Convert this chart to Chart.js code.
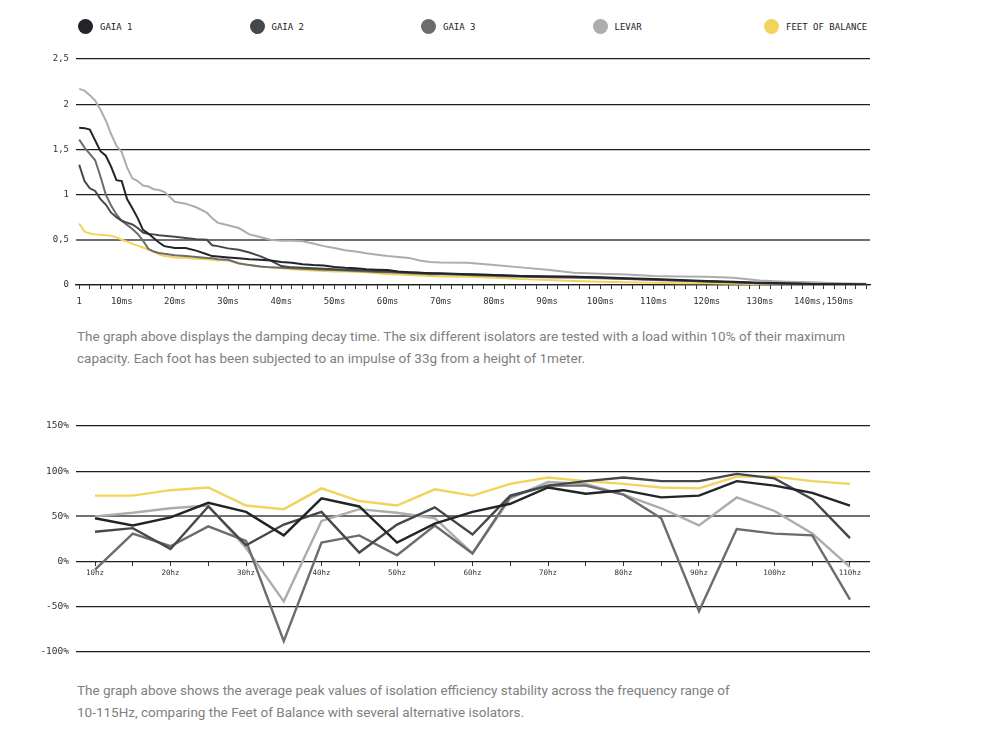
<!DOCTYPE html>
<html>
<head>
<meta charset="utf-8">
<script src="https://cdn.jsdelivr.net/npm/chart.js@4/dist/chart.umd.min.js"></script>
<style>
  body { margin: 0; background: #fff; width: 986px; height: 735px; position: relative; overflow: hidden; }
  #legend { position: absolute; left: 78px; top: 19px; display: flex; }
  .item { width: 171.5px; display: flex; align-items: center; font: 9px "DejaVu Sans Mono", monospace; color: #222; }
  .dot { width: 15px; height: 15px; border-radius: 50%; margin-right: 7px; }
  canvas { position: absolute; left: 0; }
  .caption { position: absolute; left: 77px; font: 13.5px "Liberation Sans Narrow", "Roboto", sans-serif; color: #808080; line-height: 22px; }
</style>
</head>
<body>
<div id="legend"></div>
<canvas id="decayChart" width="986" height="270" style="top:45px"></canvas>
<div class="caption" style="top:325px">The graph above displays the damping decay time. The six different isolators are tested with a load within 10% of their maximum<br>capacity. Each foot has been subjected to an impulse of 33g from a height of 1meter.</div>
<canvas id="effChart" width="986" height="255" style="top:410px"></canvas>
<div class="caption" style="top:679px">The graph above shows the average peak values of isolation efficiency stability across the frequency range of<br>10-115Hz, comparing the Feet of Balance with several alternative isolators.</div>
<script>
/* ================= DATA ================= */
const seriesNames = ["GAIA 1", "GAIA 2", "GAIA 3", "LEVAR", "FEET OF BALANCE"];
const seriesColors = ["#222428", "#45484b", "#6c6c6c", "#adadad", "#f2d35c"];

// damping decay (top chart)
const decayMs = [2,3,4,5,6,7,8,9,10,11,12,13,14,15,16,17,18,20,22,24,26,27,28,30,32,34,36,38,40,42,44,46,48,50,52,54,56,58,60,62,64,66,68,70,75,80,85,90,95,100,105,110,115,120,125,130,135,140,145,150];
const gaia1Decay = [1.74,1.735,1.72,1.60,1.48,1.43,1.31,1.16,1.15,0.95,0.85,0.74,0.61,0.57,0.52,0.47,0.43,0.41,0.41,0.38,0.34,0.32,0.315,0.305,0.295,0.285,0.28,0.27,0.255,0.245,0.23,0.22,0.215,0.20,0.19,0.185,0.175,0.17,0.165,0.15,0.14,0.135,0.13,0.13,0.12,0.11,0.10,0.095,0.09,0.085,0.075,0.065,0.055,0.045,0.035,0.025,0.018,0.012,0.009,0.006];
const gaia2Decay = [1.33,1.15,1.07,1.04,0.95,0.89,0.80,0.75,0.71,0.69,0.67,0.63,0.58,0.565,0.56,0.55,0.545,0.535,0.52,0.505,0.50,0.44,0.43,0.405,0.39,0.36,0.32,0.27,0.21,0.195,0.19,0.185,0.18,0.175,0.17,0.165,0.16,0.155,0.15,0.145,0.14,0.135,0.13,0.125,0.12,0.11,0.10,0.095,0.09,0.08,0.07,0.06,0.05,0.04,0.03,0.02,0.015,0.01,0.008,0.006];
const gaia3Decay = [1.61,1.52,1.45,1.38,1.20,1.00,0.88,0.78,0.71,0.665,0.62,0.565,0.49,0.40,0.37,0.355,0.345,0.33,0.32,0.31,0.30,0.295,0.285,0.28,0.24,0.22,0.205,0.195,0.19,0.185,0.18,0.175,0.17,0.165,0.16,0.155,0.15,0.145,0.14,0.135,0.13,0.125,0.12,0.118,0.11,0.10,0.09,0.085,0.08,0.075,0.065,0.055,0.047,0.04,0.03,0.02,0.015,0.01,0.007,0.005];
const levarDecay = [2.17,2.15,2.10,2.04,1.94,1.82,1.67,1.54,1.47,1.30,1.18,1.15,1.10,1.09,1.06,1.05,1.03,0.92,0.90,0.86,0.80,0.74,0.69,0.66,0.63,0.56,0.53,0.50,0.49,0.49,0.485,0.46,0.43,0.41,0.385,0.37,0.35,0.335,0.32,0.31,0.30,0.27,0.255,0.25,0.245,0.22,0.195,0.17,0.135,0.125,0.115,0.10,0.095,0.09,0.08,0.05,0.037,0.03,0.02,0.015];
const fobDecay = [0.68,0.59,0.57,0.56,0.555,0.55,0.545,0.53,0.50,0.48,0.455,0.435,0.415,0.39,0.37,0.34,0.32,0.305,0.30,0.29,0.285,0.28,0.275,0.27,0.235,0.22,0.205,0.195,0.185,0.175,0.165,0.16,0.155,0.15,0.15,0.145,0.14,0.13,0.12,0.115,0.11,0.105,0.10,0.095,0.09,0.08,0.065,0.055,0.045,0.035,0.03,0.025,0.02,0.02,0.015,0.012,0.01,0.008,0.006,0.005];
const decayLabelAt = [2,10,20,30,40,50,60,70,80,90,100,110,120,130,142];
const decayLabels = ["1","10ms","20ms","30ms","40ms","50ms","60ms","70ms","80ms","90ms","100ms","110ms","120ms","130ms","140ms,150ms"];

// isolation efficiency (bottom chart)
const hz = [10,15,20,25,30,35,40,45,50,55,60,65,70,75,80,85,90,95,100,105,110];
const gaia1Eff = [48,40,49,65,55,29,70,61,21,42,55,64,82,75,79,71,73,89,84,76,62];
const gaia2Eff = [33,37,14,61,18,41,55,10,41,60,30,73,84,89,93,89,89,97,92,69,26];
const gaia3Eff = [-9,31,17,39,23,-88,21,29,7,40,9,72,84,84,74,48,-55,36,31,29,-42];
const levarEff = [50,54,59,62,15,-44,45,58,54,48,9,70,88,86,74,59,40,71,56,31,-6];
const fobEff = [73,73,79,82,62,58,81,67,62,80,73,86,93,89,86,82,81,94,94,89,86];

/* ================= LEGEND ================= */
const legend = document.getElementById("legend");
seriesNames.forEach((name, i) => {
  legend.innerHTML += `<div class="item"><span class="dot" style="background:${seriesColors[i]}"></span>${name}</div>`;
});

/* ================= HELPERS ================= */
const mono = "'DejaVu Sans Mono', monospace";

function lineSets(xs, list, width) {
  return list.map((vals, i) => ({
    label: seriesNames[i],
    data: vals.map((v, j) => ({ x: xs[j], y: v })),
    borderColor: seriesColors[i],
    backgroundColor: seriesColors[i],
    borderWidth: width,
    pointRadius: 0,
    tension: 0
  }));
}

function gridColor(mid) {
  return ctx => ctx.tick && ctx.tick.value === mid ? "#707070" : "#1e1e1e";
}
function gridWidth(mid) {
  return ctx => ctx.tick && ctx.tick.value === mid ? 2 : 1.3;
}

/* ================= DECAY CHART ================= */
new Chart(document.getElementById("decayChart"), {
  type: "line",
  data: { datasets: lineSets(decayMs, [gaia1Decay, gaia2Decay, gaia3Decay, levarDecay, fobDecay], 2) },
  options: {
    responsive: false,
    animation: false,
    devicePixelRatio: 1,
    layout: { padding: { left: 0, right: 116, top: 14, bottom: 0 } },
    plugins: { legend: { display: false }, tooltip: { enabled: false } },
    scales: {
      x: {
        type: "linear",
        min: 1.4,
        max: 150.7,
        afterFit: s => { s.height = 30; },
        afterBuildTicks: s => {
          const t = [];
          for (let v = 2; v <= 150; v += 2) t.push({ value: v });
          s.ticks = t;
        },
        border: { display: true, color: "#1e1e1e", width: 1.3 },
        grid: { drawOnChartArea: false, drawTicks: true, tickLength: 4, color: "#333" },
        ticks: {
          autoSkip: false, maxRotation: 0, minRotation: 0, padding: 7,
          color: "#333", font: { family: mono, size: 9 },
          callback: v => {
            const k = decayLabelAt.indexOf(v);
            return k >= 0 ? decayLabels[k] : "";
          }
        }
      },
      y: {
        min: 0,
        max: 2.5,
        afterFit: s => { s.width = 76; },
        border: { display: false },
        grid: { drawTicks: false, color: gridColor(0.5), lineWidth: gridWidth(0.5) },
        ticks: {
          stepSize: 0.5, padding: 7, color: "#333", font: { family: mono, size: 9 },
          callback: v => String(v).replace(".", ",")
        }
      }
    }
  }
});

/* ================= EFFICIENCY CHART ================= */
new Chart(document.getElementById("effChart"), {
  type: "line",
  data: { datasets: lineSets(hz, [gaia1Eff, gaia2Eff, gaia3Eff, levarEff, fobEff], 2.4) },
  options: {
    responsive: false,
    animation: false,
    devicePixelRatio: 1,
    layout: { padding: { left: 0, right: 116, top: 16, bottom: 13 } },
    plugins: { legend: { display: false }, tooltip: { enabled: false } },
    scales: {
      x: {
        type: "linear",
        position: { y: 0 },
        min: 7.48,
        max: 112.65,
        afterBuildTicks: s => {
          s.ticks = hz.map(v => ({ value: v }));
        },
        border: { display: false },
        grid: { drawOnChartArea: false, drawTicks: true, tickLength: 4, color: "#333" },
        ticks: {
          autoSkip: false, maxRotation: 0, minRotation: 0, padding: 3,
          color: "#333", font: { family: mono, size: 7.5 },
          callback: v => (v % 10 === 0 ? v + "hz" : "")
        }
      },
      y: {
        min: -100,
        max: 150,
        afterFit: s => { s.width = 76; },
        border: { display: false },
        grid: { drawTicks: false, color: gridColor(50), lineWidth: gridWidth(50) },
        ticks: {
          stepSize: 50, padding: 7, color: "#333", font: { family: mono, size: 9.5 },
          callback: v => v + "%"
        }
      }
    }
  }
});
</script>
</body>
</html>
